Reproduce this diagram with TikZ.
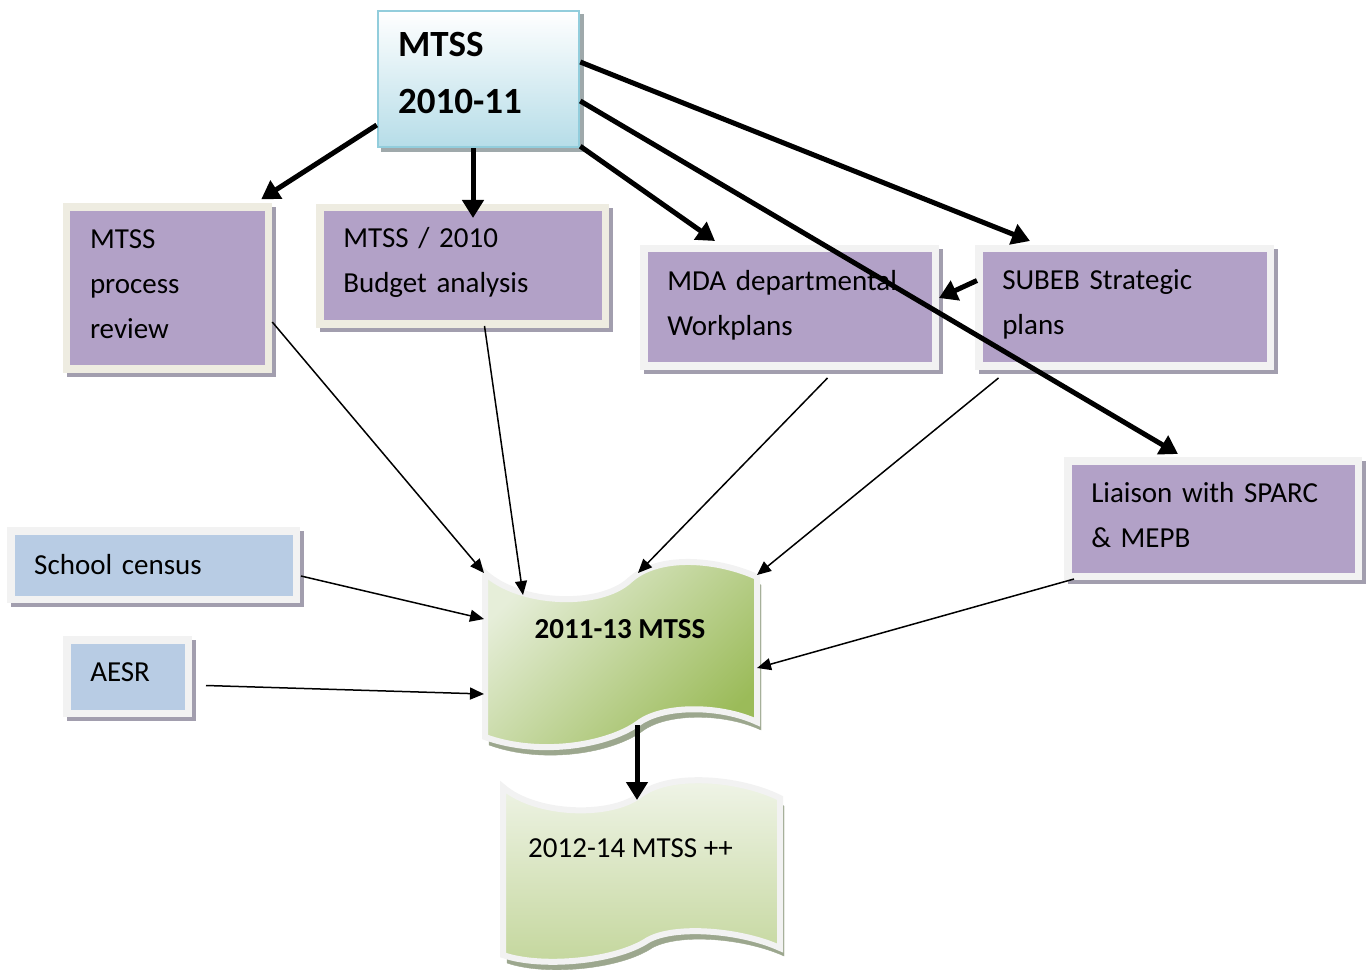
\documentclass[tikz,border=0pt]{standalone}
\usepackage{fontspec}
\setmainfont{Carlito}
\usetikzlibrary{arrows.meta,calc}

\definecolor{purplebox}{HTML}{B2A1C7}
\definecolor{bluebox}{HTML}{B8CCE4}
\definecolor{creamframe}{HTML}{EEECE1}
\definecolor{paleframe}{HTML}{F2F2F2}
\definecolor{boxshadow}{HTML}{A29EAE}
\definecolor{headshadow}{HTML}{9FA9AB}
\definecolor{headborder}{HTML}{92CDDC}
\definecolor{headlow}{HTML}{B6DDE8}
\definecolor{greenlight}{HTML}{E6EED9}
\definecolor{greendark}{HTML}{9BBB59}
\definecolor{greenpale}{HTML}{F1F5EA}
\definecolor{greenmid}{HTML}{C3D69B}
\definecolor{flagshadow}{HTML}{9CA78E}

\begin{document}
\begin{tikzpicture}[x=1pt,y=-1pt,
  bodytext/.style={font=\fontsize{29}{45}\selectfont},
  card/.style={rectangle, line width=7.5pt, inner xsep=23.5pt, inner ysep=0pt,
    align=left, bodytext,
    preaction={draw=boxshadow, fill=boxshadow, transform canvas={shift={(4pt,-4pt)}}}},
  purplecard/.style={card, fill=purplebox, draw=#1},
  bluecard/.style={card, fill=bluebox, draw=paleframe},
  headcard/.style={rectangle, line width=2.5pt, draw=headborder,
    top color=white, bottom color=headlow, inner xsep=20pt, inner ysep=0pt,
    align=left, font=\bfseries\fontsize{37}{57}\selectfont,
    preaction={fill=headshadow, draw=headshadow, transform canvas={shift={(4pt,-4pt)}}}},
  flagshape/.style={draw=paleframe, line width=6pt,
    preaction={fill=flagshadow, draw=flagshadow, transform canvas={shift={(4pt,-8pt)}}}},
  bigarrow/.style={line width=5pt, -{Triangle[length=18pt,width=21pt]}},
  feedarrow/.style={line width=1.5pt, -{Triangle[length=14pt,width=12pt]}}
]
\useasboundingbox (0,0) rectangle (1371,973);

% ---- top box
\node[headcard, minimum width=201pt, minimum height=136pt, text width=161pt, text depth=69pt]
  (head) at (478.5,79) {MTSS\\2010-11};

% ---- input boxes
\node[purplecard=creamframe, minimum width=202pt, minimum height=162pt, text width=155pt, text depth=98pt]
  (review) at (167.5,288) {MTSS\\process\\review};
\node[purplecard=creamframe, minimum width=285.5pt, minimum height=116.5pt, text width=238.5pt, text depth=57pt]
  (budget) at (462.5,266) {MTSS / 2010\\Budget analysis};
\node[purplecard=paleframe, minimum width=291.5pt, minimum height=117.5pt, text width=244.5pt, text depth=55pt]
  (mda) at (789.5,307.5) {MDA departmental\\Workplans};
\node[purplecard=paleframe, minimum width=291.5pt, minimum height=117.5pt, text width=244.5pt, text depth=55pt]
  (subeb) at (1124.5,307.5) {SUBEB Strategic\\plans};
\node[purplecard=paleframe, minimum width=290.5pt, minimum height=115.5pt, text width=243.5pt, text depth=53pt]
  (liaison) at (1213,518.5) {Liaison with SPARC\\\& MEPB};
\node[bluecard, minimum width=285.5pt, minimum height=68.5pt, text width=238.5pt, text depth=2pt]
  (census) at (153.5,565) {School census};
\node[bluecard, minimum width=121.5pt, minimum height=73.5pt, text width=74.5pt, text depth=8pt]
  (aesr) at (127.5,676.5) {AESR};

% ---- wave-shaped plan documents
\path[flagshape, top color=greenlight, bottom color=greendark, shading angle=45]
  (485,573) .. controls (520,605) and (600,608) .. (630,580)
  .. controls (660,553) and (720,560) .. (757,577)
  -- (757,722)
  .. controls (720,705) and (665,705) .. (640,722)
  .. controls (610,745) and (540,757) .. (485,737) -- cycle;
\node[font=\bfseries\fontsize{29}{35}\selectfont] (planA) at (620,629) {2011-13 MTSS};

\path[flagshape, top color=greenpale, bottom color=greenmid]
  (503,787) .. controls (535,815) and (610,818) .. (640,795)
  .. controls (670,772) and (740,778) .. (780,798)
  -- (780,948)
  .. controls (740,930) and (675,925) .. (648,940)
  .. controls (615,962) and (540,968) .. (503,955) -- cycle;
\node[bodytext, anchor=west, inner sep=0pt] (planB) at (528,848) {2012-14 MTSS ++};

% entry and exit points on the first plan document
\coordinate (inReview)  at (484,573);
\coordinate (inBudget)  at (523,595);
\coordinate (inMda)     at (638,573);
\coordinate (inSubeb)   at (757,575);
\coordinate (inLiaison) at (757,668);
\coordinate (inCensus)  at (484,619);
\coordinate (inAesr)    at (484,694);
\coordinate (outPlanA)  at (637,725);
\coordinate (inPlanB)   at (637,800);

% ---- feeds into the 2011-13 plan
\draw[feedarrow] ([shift={(0,34)}]review.east) -- (inReview);
\draw[feedarrow] ([shift={(22,-2)}]budget.south) -- (inBudget);
\draw[feedarrow] ([shift={(38,8)}]mda.south) -- (inMda);
\draw[feedarrow] ([shift={(-126,8)}]subeb.south) -- (inSubeb);
\draw[feedarrow] ([shift={(10,-1)}]liaison.south west) -- (inLiaison);
\draw[feedarrow] ([shift={(1,11)}]census.east) -- (inCensus);
\draw[feedarrow] ([shift={(14,9)}]aesr.east) -- (inAesr);

% ---- links from the 2010-11 MTSS
\draw[bigarrow] ([shift={(0,46)}]head.west) -- ([shift={(-11,-4)}]review.north east);
\draw[bigarrow] ([shift={(-5.5,0)}]head.south) -- ([shift={(10.5,14)}]budget.north);
\draw[bigarrow] ([shift={(0,-2)}]head.south east) -- ([shift={(-74.5,-4)}]mda.north);
\draw[bigarrow] ([shift={(0,-17)}]head.east) -- ([shift={(-94.5,-4)}]subeb.north);
\draw[bigarrow] ([shift={(0,22)}]head.east) -- ([shift={(-35,-3)}]liaison.north);
\draw[bigarrow] ([shift={(2,-27)}]subeb.west) -- ([shift={(0,-9.5)}]mda.east);
\draw[bigarrow] (outPlanA) -- (inPlanB);
\end{tikzpicture}
\end{document}
